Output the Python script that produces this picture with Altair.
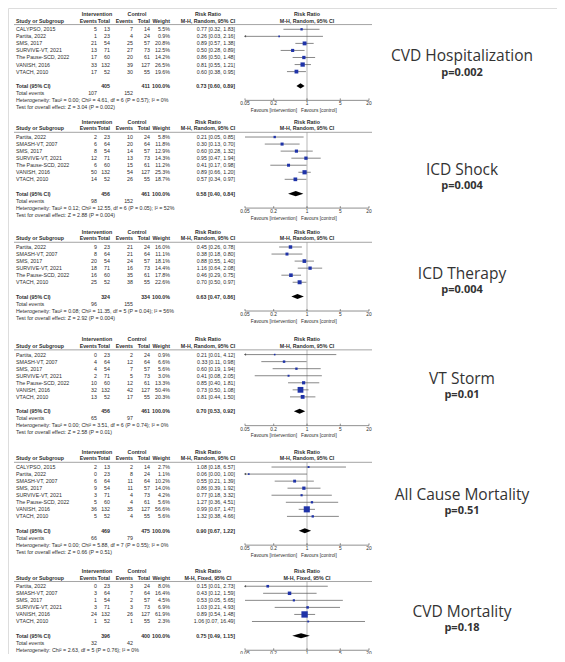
import altair as alt
import pandas as pd

# ---------------- data ----------------
outcome_names = ["CVD Hospitalization", "ICD Shock", "ICD Therapy", "VT Storm",
                 "All Cause Mortality", "CVD Mortality"]
outcome_p = ["p=0.002", "p=0.004", "p=0.004", "p=0.01", "p=0.51", "p=0.18"]
method_labels = ["M-H, Random, 95% CI"] * 5 + ["M-H, Fixed, 95% CI"]

# study, int events, int total, ctrl events, ctrl total, weight %, RR, lower, upper
hosp_rows = [
    ("CALYPSO, 2015", 5, 13, 7, 14, 5.5, 0.77, 0.32, 1.83),
    ("Partita, 2022", 1, 23, 4, 24, 0.9, 0.26, 0.03, 2.16),
    ("SMS, 2017", 21, 54, 25, 57, 20.8, 0.89, 0.57, 1.38),
    ("SURVIVE-VT, 2021", 13, 71, 27, 73, 12.5, 0.50, 0.28, 0.89),
    ("The Pause-SCD, 2022", 17, 60, 20, 61, 14.2, 0.86, 0.50, 1.48),
    ("VANISH, 2016", 33, 132, 39, 127, 26.5, 0.81, 0.55, 1.21),
    ("VTACH, 2010", 17, 52, 30, 55, 19.6, 0.60, 0.38, 0.95),
]
hosp_total = (405, 411, 0.73, 0.60, 0.89)
hosp_events = (107, 152)
hosp_het = "Heterogeneity: Tau² = 0.00; Chi² = 4.61, df = 6 (P = 0.57); I² = 0%"
hosp_test = "Test for overall effect: Z = 3.04 (P = 0.002)"

shock_rows = [
    ("Partita, 2022", 2, 23, 10, 24, 5.8, 0.21, 0.05, 0.85),
    ("SMASH-VT, 2007", 6, 64, 20, 64, 11.8, 0.30, 0.13, 0.70),
    ("SMS, 2017", 8, 54, 14, 57, 12.9, 0.60, 0.28, 1.32),
    ("SURVIVE-VT, 2021", 12, 71, 13, 73, 14.3, 0.95, 0.47, 1.94),
    ("The Pause-SCD, 2022", 6, 60, 15, 61, 11.2, 0.41, 0.17, 0.98),
    ("VANISH, 2016", 50, 132, 54, 127, 25.3, 0.89, 0.66, 1.20),
    ("VTACH, 2010", 14, 52, 26, 55, 18.7, 0.57, 0.34, 0.97),
]
shock_total = (456, 461, 0.58, 0.40, 0.84)
shock_events = (98, 152)
shock_het = "Heterogeneity: Tau² = 0.12; Chi² = 12.55, df = 6 (P = 0.05); I² = 52%"
shock_test = "Test for overall effect: Z = 2.88 (P = 0.004)"

therapy_rows = [
    ("Partita, 2022", 9, 23, 21, 24, 16.0, 0.45, 0.26, 0.78),
    ("SMASH-VT, 2007", 8, 64, 21, 64, 11.1, 0.38, 0.18, 0.80),
    ("SMS, 2017", 20, 54, 24, 57, 18.1, 0.88, 0.55, 1.40),
    ("SURVIVE-VT, 2021", 18, 71, 16, 73, 14.4, 1.16, 0.64, 2.08),
    ("The Pause-SCD, 2022", 16, 60, 35, 61, 17.8, 0.46, 0.29, 0.75),
    ("VTACH, 2010", 25, 52, 38, 55, 22.6, 0.70, 0.50, 0.97),
]
therapy_total = (324, 334, 0.63, 0.47, 0.86)
therapy_events = (96, 155)
therapy_het = "Heterogeneity: Tau² = 0.08; Chi² = 11.35, df = 5 (P = 0.04); I² = 56%"
therapy_test = "Test for overall effect: Z = 2.92 (P = 0.004)"

storm_rows = [
    ("Partita, 2022", 0, 23, 2, 24, 0.9, 0.21, 0.01, 4.12),
    ("SMASH-VT, 2007", 4, 64, 12, 64, 6.6, 0.33, 0.11, 0.98),
    ("SMS, 2017", 4, 54, 7, 57, 5.6, 0.60, 0.19, 1.94),
    ("SURVIVE-VT, 2021", 2, 71, 5, 73, 3.0, 0.41, 0.08, 2.05),
    ("The Pause-SCD, 2022", 10, 60, 12, 61, 13.3, 0.85, 0.40, 1.81),
    ("VANISH, 2016", 32, 132, 42, 127, 50.4, 0.73, 0.50, 1.08),
    ("VTACH, 2010", 13, 52, 17, 55, 20.3, 0.81, 0.44, 1.50),
]
storm_total = (456, 461, 0.70, 0.53, 0.92)
storm_events = (65, 97)
storm_het = "Heterogeneity: Tau² = 0.00; Chi² = 3.51, df = 6 (P = 0.74); I² = 0%"
storm_test = "Test for overall effect: Z = 2.58 (P = 0.01)"

allcause_rows = [
    ("CALYPSO, 2015", 2, 13, 2, 14, 2.7, 1.08, 0.18, 6.57),
    ("Partita, 2022", 0, 23, 8, 24, 1.1, 0.06, 0.00, 1.00),
    ("SMASH-VT, 2007", 6, 64, 11, 64, 10.2, 0.55, 0.21, 1.39),
    ("SMS, 2017", 9, 54, 11, 57, 14.0, 0.86, 0.39, 1.92),
    ("SURVIVE-VT, 2021", 3, 71, 4, 73, 4.2, 0.77, 0.18, 3.32),
    ("The Pause-SCD, 2022", 5, 60, 4, 61, 5.6, 1.27, 0.36, 4.51),
    ("VANISH, 2016", 36, 132, 35, 127, 56.6, 0.99, 0.67, 1.47),
    ("VTACH, 2010", 5, 52, 4, 55, 5.6, 1.32, 0.38, 4.66),
]
allcause_total = (469, 475, 0.90, 0.67, 1.22)
allcause_events = (66, 79)
allcause_het = "Heterogeneity: Tau² = 0.00; Chi² = 5.88, df = 7 (P = 0.55); I² = 0%"
allcause_test = "Test for overall effect: Z = 0.66 (P = 0.51)"

cvdmort_rows = [
    ("Partita, 2022", 0, 23, 3, 24, 8.0, 0.15, 0.01, 2.73),
    ("SMASH-VT, 2007", 3, 64, 7, 64, 16.4, 0.43, 0.12, 1.59),
    ("SMS, 2017", 1, 54, 2, 57, 4.5, 0.53, 0.05, 5.65),
    ("SURVIVE-VT, 2021", 3, 71, 3, 73, 6.9, 1.03, 0.21, 4.93),
    ("VANISH, 2016", 24, 132, 26, 127, 61.9, 0.89, 0.54, 1.48),
    ("VTACH, 2010", 1, 52, 1, 55, 2.3, 1.06, 0.07, 16.49),
]
cvdmort_total = (396, 400, 0.75, 0.49, 1.15)
cvdmort_events = (32, 42)
cvdmort_het = "Heterogeneity: Chi² = 2.63, df = 5 (P = 0.76); I² = 0%"
cvdmort_test = "Test for overall effect: Z = 1.33 (P = 0.18)"

axis_ticks = [0.05, 0.2, 1, 5, 20]
axis_tick_labels = ["0.05", "0.2", "1", "5", "20"]

panels = [
    (hosp_rows, hosp_total, hosp_events, hosp_het, hosp_test),
    (shock_rows, shock_total, shock_events, shock_het, shock_test),
    (therapy_rows, therapy_total, therapy_events, therapy_het, therapy_test),
    (storm_rows, storm_total, storm_events, storm_het, storm_test),
    (allcause_rows, allcause_total, allcause_events, allcause_het, allcause_test),
    (cvdmort_rows, cvdmort_total, cvdmort_events, cvdmort_het, cvdmort_test),
]

# ---------------- layout ----------------
W, H = 549, 646
STEP = 7.05          # px per text line
Y0 = 6.0             # px of first header line
panel_start = [0, 15.28, 30.88, 46.14, 62.09, 79.0]   # in lines
name_off = [5.9, 6.8, 6.0, 5.7, 6.1, 5.8]              # outcome label, lines below panel top
p_off = [8.35, 9.05, 8.25, 7.95, 8.35, 8.05]
XMIN, XMAX = 0.05, 20

yscale = alt.Scale(domain=[-Y0 / STEP, (H - Y0) / STEP], range=[0, H], zero=False, nice=False)
xscale = alt.Scale(type="log", domain=[XMIN, XMAX], range=[237, 361], nice=False)

cols = {
    "study": (8, "left"), "evi": (89, "right"), "toti": (102, "right"),
    "evc": (125, "right"), "totc": (142, "right"), "wt": (162, "right"),
    "rr": (227, "right"), "h_int": (89, "center"), "h_ctrl": (129, "center"),
    "h_rr": (200, "center"), "h_rr2": (299, "center"),
}

def rrtxt(r, lo, hi):
    return f"{r:.2f} [{lo:.2f}, {hi:.2f}]"

cells, forest, diamonds, frames, ticks = [], [], [], [], []
for p, (rows, tot, ev, het, test) in enumerate(panels):
    s = panel_start[p]
    n = len(rows)
    def add(line, text, col, bold=False):
        cells.append({"line": line, "text": str(text), "col": col, "bold": bold})
    add(s, "Intervention", "h_int", True)
    add(s, "Control", "h_ctrl", True)
    add(s, "Risk Ratio", "h_rr", True)
    add(s, "Risk Ratio", "h_rr2", True)
    h2 = s + 0.95
    add(h2, "Study or Subgroup", "study", True)
    add(h2, "Events", "evi", True)
    add(h2, "Total", "toti", True)
    add(h2, "Events", "evc", True)
    add(h2, "Total", "totc", True)
    add(h2, "Weight", "wt", True)
    add(h2, method_labels[p], "h_rr", True)
    add(h2, method_labels[p], "h_rr2", True)
    for i, (st, a, n1, c, n2, w, r, lo, hi) in enumerate(rows):
        ln = s + 2.17 + i
        add(ln, st, "study")
        add(ln, a, "evi")
        add(ln, n1, "toti")
        add(ln, c, "evc")
        add(ln, n2, "totc")
        add(ln, f"{w:.1f}%", "wt")
        add(ln, rrtxt(r, lo, hi), "rr")
        forest.append({"line": ln, "rr": r, "lo": max(lo, XMIN), "hi": min(hi, XMAX),
                       "w": w, "clip": lo < XMIN})
    tl = s + n + 3.2
    add(tl, "Total (95% CI)", "study", True)
    add(tl, tot[0], "toti", True)
    add(tl, tot[1], "totc", True)
    add(tl, "100.0%", "wt", True)
    add(tl, rrtxt(tot[2], tot[3], tot[4]), "rr", True)
    diamonds += [
        {"panel": p, "x": tot[3], "top": tl, "bot": tl},
        {"panel": p, "x": tot[2], "top": tl - 0.36, "bot": tl + 0.36},
        {"panel": p, "x": tot[4], "top": tl, "bot": tl},
    ]
    add(tl + 1, "Total events", "study")
    add(tl + 1, ev[0], "evi")
    add(tl + 1, ev[1], "evc")
    add(tl + 2, het, "study")
    add(tl + 3, test, "study")
    ax = s + n + 5.25
    frames.append({"panel": p, "under": s + 1.5, "top": s + 1.5, "axis": ax,
                   "fav": ax + 1.5, "one": 1.0, "a0": XMIN, "a1": XMAX,
                   "name": outcome_names[p], "pval": outcome_p[p],
                   "nline": s + name_off[p], "pline": s + p_off[p]})
    for tv, tlab in zip(axis_ticks, axis_tick_labels):
        ticks.append({"tick": tv, "label": tlab, "axis": ax, "tt": ax - 0.28, "lab": ax + 0.55})

cells = pd.DataFrame(cells)
forest = pd.DataFrame(forest)
diamonds = pd.DataFrame(diamonds)
frames = pd.DataFrame(frames)
ticks = pd.DataFrame(ticks)

FONT = "Liberation Sans"
TXT = "#2e2e2e"
FS = 5.3

Y = lambda f: alt.Y(f, scale=yscale, axis=None)
X = lambda f: alt.X(f, scale=xscale, axis=None)

layers = []
for (col, bold), sub in cells.groupby(["col", "bold"]):
    xpos, align = cols[col]
    layers.append(
        alt.Chart(sub).mark_text(align=align, baseline="middle", fontSize=FS, font=FONT,
                                 fontWeight="bold" if bold else "normal", color=TXT)
        .encode(x=alt.value(xpos), y=Y("line:Q"), text="text:N")
    )

# header underline
layers.append(alt.Chart(frames).mark_rule(color="#666", strokeWidth=0.6)
              .encode(x=alt.value(6), x2=alt.value(364), y=Y("under:Q")))
# line of no effect
layers.append(alt.Chart(frames).mark_rule(color="#888", strokeWidth=0.6)
              .encode(x=X("one:Q"), y=Y("top:Q"), y2="axis:Q"))
# axis
layers.append(alt.Chart(frames).mark_rule(color="#444", strokeWidth=0.6)
              .encode(x=X("a0:Q"), x2="a1:Q", y=Y("axis:Q")))
layers.append(alt.Chart(ticks).mark_rule(color="#444", strokeWidth=0.6)
              .encode(x=X("tick:Q"), y=Y("tt:Q"), y2="axis:Q"))
layers.append(alt.Chart(ticks).mark_text(fontSize=4.8, font=FONT, color=TXT, baseline="middle")
              .encode(x=X("tick:Q"), y=Y("lab:Q"), text="label:N"))
layers.append(alt.Chart(frames).mark_text(fontSize=4.8, font=FONT, color=TXT, align="right",
                                          baseline="middle", dx=-10)
              .encode(x=X("one:Q"), y=Y("fav:Q"), text=alt.value("Favours [intervention]")))
layers.append(alt.Chart(frames).mark_text(fontSize=4.8, font=FONT, color=TXT, align="left",
                                          baseline="middle", dx=-6)
              .encode(x=X("one:Q"), y=Y("fav:Q"), text=alt.value("Favours [control]")))
# CI lines
layers.append(alt.Chart(forest).mark_rule(color="#555", strokeWidth=0.7)
              .encode(x=X("lo:Q"), x2="hi:Q", y=Y("line:Q")))
layers.append(alt.Chart(forest).transform_filter("datum.clip")
              .mark_point(shape="triangle-left", filled=True, color="#555", size=6, opacity=1)
              .encode(x=X("lo:Q"), y=Y("line:Q")))
# squares
layers.append(alt.Chart(forest).mark_square(color="#1f33a8", opacity=1)
              .encode(x=X("rr:Q"), y=Y("line:Q"),
                      size=alt.Size("w:Q", scale=alt.Scale(domain=[0, 100], range=[2, 64]), legend=None)))
# diamonds
layers.append(alt.Chart(diamonds).mark_area(color="black", orient="vertical", opacity=1)
              .encode(x=X("x:Q"), y=Y("top:Q"), y2="bot:Q", detail="panel:N"))
# outcome labels
layers.append(alt.Chart(frames).mark_text(fontSize=15.5, font="Open Sans", color="#333", baseline="middle")
              .encode(x=alt.value(454), y=Y("nline:Q"), text="name:N"))
layers.append(alt.Chart(frames).mark_text(fontSize=11, font="Open Sans", fontWeight="bold",
                                          color="#333", baseline="middle")
              .encode(x=alt.value(454), y=Y("pline:Q"), text="pval:N"))

chart = alt.layer(*layers).properties(
    width=W, height=H, autosize=alt.AutoSizeParams(type="none"), padding=0
).configure_view(stroke=None).configure(background="white")

chart.save("out.html", embed_options={"renderer": "svg", "actions": False})
